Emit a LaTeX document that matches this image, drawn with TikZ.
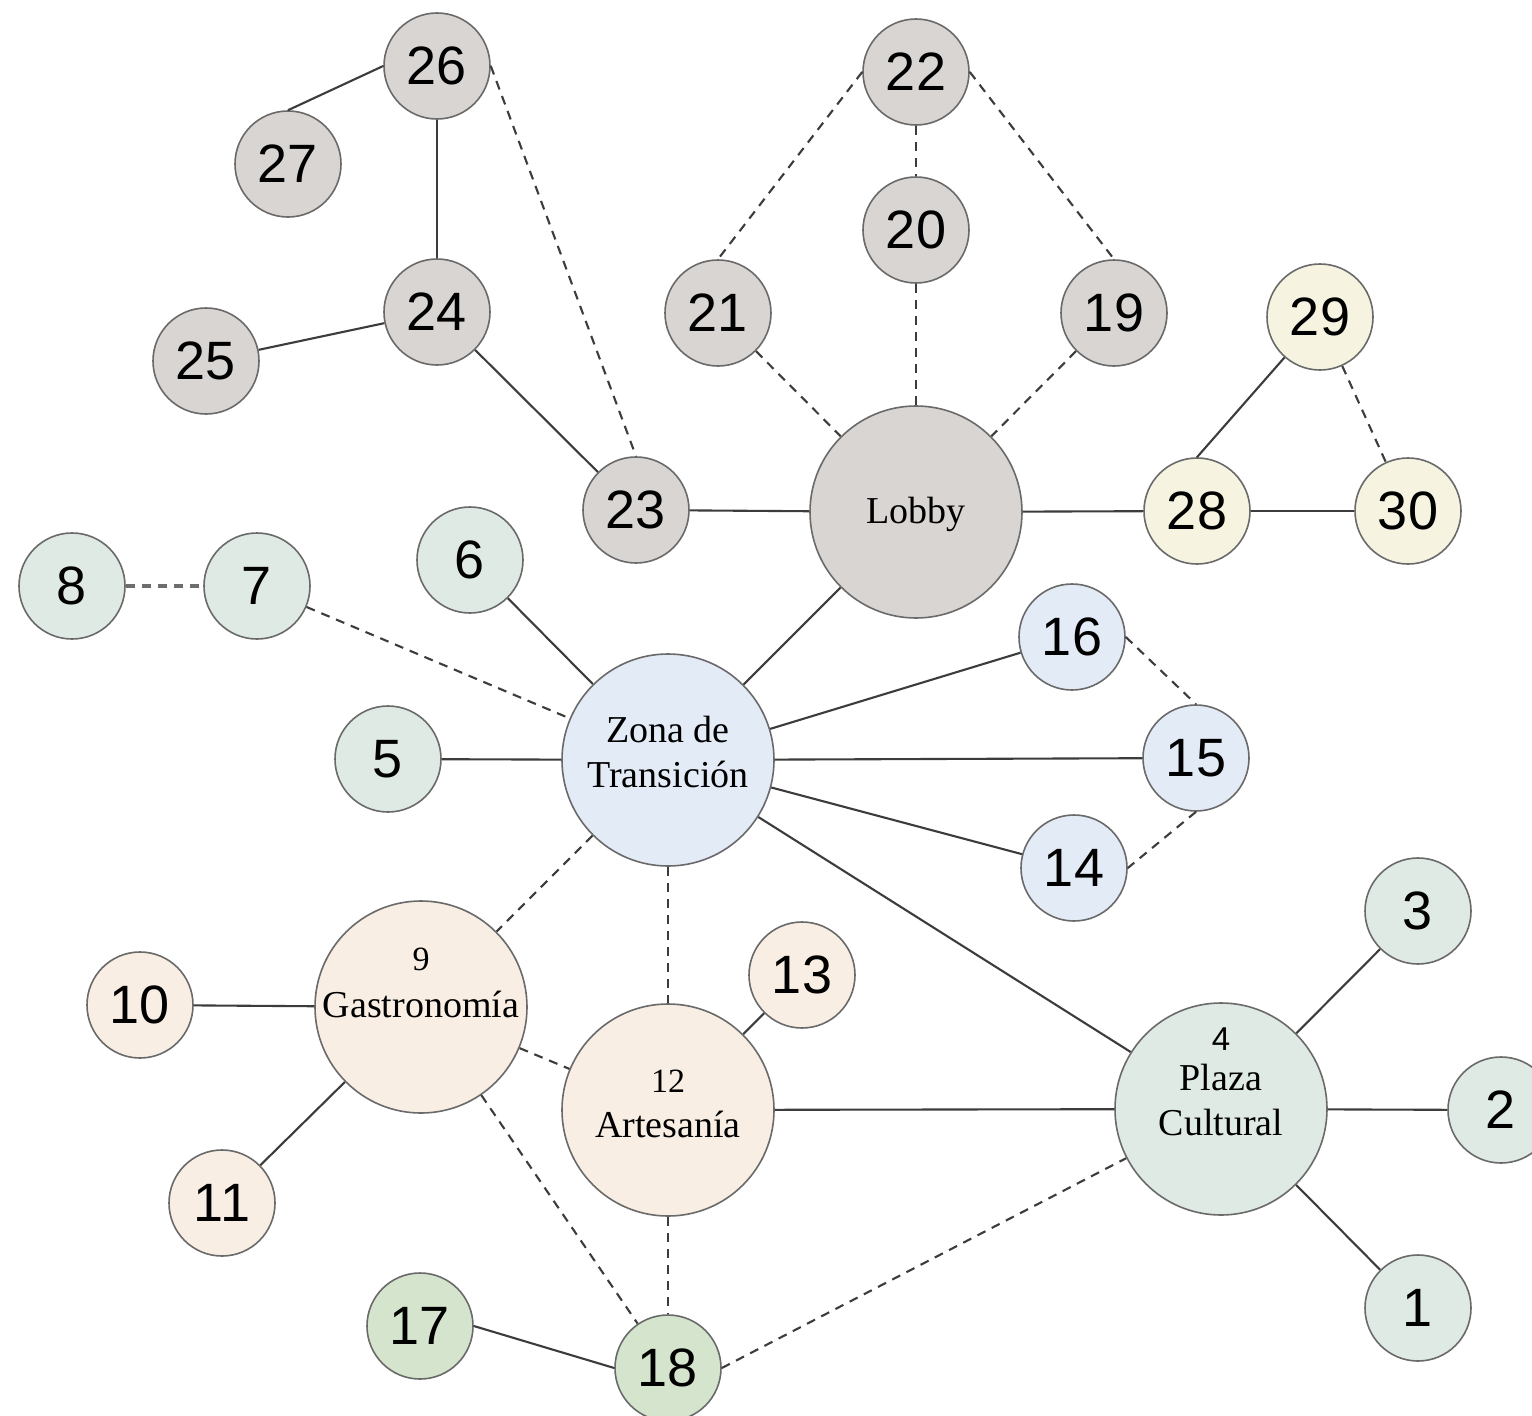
\documentclass[tikz,border=0pt]{standalone}
\usepackage{fontspec}
\setmainfont{Liberation Serif}
\newfontfamily\numfont{Liberation Sans}
\definecolor{cgray}{HTML}{D9D5D3}
\definecolor{ccream}{HTML}{F6F4E1}
\definecolor{csage}{HTML}{DFEAE4}
\definecolor{cblue}{HTML}{E3EBF6}
\definecolor{cpeach}{HTML}{F8EEE3}
\definecolor{cgreen}{HTML}{D5E5CD}
\definecolor{bordc}{HTML}{6A6A6A}
\definecolor{linec}{HTML}{3C3C3C}
\begin{document}
\begin{tikzpicture}[x=1pt,y=-1pt,
  sm/.style={circle, draw=bordc, line width=1.6pt, minimum size=106pt, inner sep=0pt,
             font=\numfont\fontsize{54}{58}\selectfont},
  big/.style={circle, draw=bordc, line width=1.6pt, minimum size=212pt, inner sep=0pt},
  ln/.style={draw=linec, line width=2.1pt},
  dl/.style={ln, dash pattern=on 9pt off 7pt},
  bl/.style={inner sep=0pt, text height=0pt, text depth=0pt},
  lbl/.style={bl, font=\fontsize{38}{45}\selectfont},
]
\useasboundingbox (0,0) rectangle (1532,1416);
\fill[white] (0,0) rectangle (1532,1416);

% gray group
\node[sm, fill=cgray] (n26) at (437,66) {26};
\node[sm, fill=cgray] (n27) at (288,164) {27};
\node[sm, fill=cgray] (n24) at (437,312) {24};
\node[sm, fill=cgray] (n25) at (206,361) {25};
\node[sm, fill=cgray] (n23) at (636,510) {23};
\node[sm, fill=cgray] (n22) at (916,72) {22};
\node[sm, fill=cgray] (n20) at (916,230) {20};
\node[sm, fill=cgray] (n21) at (718,313) {21};
\node[sm, fill=cgray] (n19) at (1114,313) {19};
\node[big, fill=cgray,
  label={[lbl, yshift=-11pt]center:Lobby}] (lobby) at (916,512) {};
% cream group
\node[sm, fill=ccream] (n29) at (1320,317) {29};
\node[sm, fill=ccream] (n28) at (1197,511) {28};
\node[sm, fill=ccream] (n30) at (1408,511) {30};
% sage group
\node[sm, fill=csage] (n8) at (72,586) {8};
\node[sm, fill=csage] (n7) at (257,586) {7};
\node[sm, fill=csage] (n6) at (470,560) {6};
\node[sm, fill=csage] (n5) at (388,759) {5};
\node[sm, fill=csage] (n3) at (1418,911) {3};
\node[sm, fill=csage] (n2) at (1501,1110) {2};
\node[sm, fill=csage] (n1) at (1418,1308) {1};
\node[big, fill=csage,
  label={[bl, font=\numfont\fontsize{33}{36}\selectfont, yshift=59pt]center:4},
  label={[lbl, yshift=19pt]center:Plaza},
  label={[lbl, yshift=-26pt]center:Cultural}] (n4) at (1221,1109) {};
% blue group
\node[big, fill=cblue,
  label={[lbl, yshift=18pt]center:Zona de},
  label={[lbl, yshift=-27pt]center:Transición}] (zona) at (668,760) {};
\node[sm, fill=cblue] (n16) at (1072,637) {16};
\node[sm, fill=cblue] (n15) at (1196,758) {15};
\node[sm, fill=cblue] (n14) at (1074,868) {14};
% peach group
\node[big, fill=cpeach,
  label={[bl, font=\fontsize{34}{38}\selectfont, yshift=37pt]center:9},
  label={[lbl, yshift=-10pt]center:Gastronomía}] (n9) at (421,1007) {};
\node[sm, fill=cpeach] (n10) at (140,1005) {10};
\node[sm, fill=cpeach] (n11) at (222,1203) {11};
\node[sm, fill=cpeach] (n13) at (802,975) {13};
\node[big, fill=cpeach,
  label={[bl, font=\fontsize{34}{38}\selectfont, yshift=18pt]center:12},
  label={[lbl, yshift=-27pt]center:Artesanía}] (n12) at (668,1110) {};
% green group
\node[sm, fill=cgreen] (n17) at (420,1326) {17};
\node[sm, fill=cgreen] (n18) at (668,1368) {18};

% solid connectors
\draw[ln] (n26.west) -- (n27.north);
\draw[ln] (n26) -- (n24);
\draw[ln] (n24) -- (n25);
\draw[ln] (n24) -- (n23);
\draw[ln] (n23) -- (lobby);
\draw[ln] (lobby) -- (n28);
\draw[ln] (n29) -- (n28.north);
\draw[ln] (n28) -- (n30);
\draw[ln] (lobby) -- (zona);
\draw[ln] (n6) -- (zona);
\draw[ln] (n5) -- (zona);
\draw[ln] (zona) -- (n16);
\draw[ln] (zona) -- (n15);
\draw[ln] (zona) -- (n14);
\draw[ln] (zona) -- (n4);
\draw[ln] (n4) -- (n3);
\draw[ln] (n4) -- (n2);
\draw[ln] (n4) -- (n1);
\draw[ln] (n10) -- (n9);
\draw[ln] (n9) -- (n11);
\draw[ln] (n12) -- (n13);
\draw[ln] (n12) -- (n4);
\draw[ln] (n17.east) -- (n18.west);

% dashed connectors
\draw[dl] (n26.east) -- (n23.north);
\draw[dl] (n22.west) -- (n21.north);
\draw[dl] (n22) -- (n20);
\draw[dl] (n22.east) -- (n19.north);
\draw[dl] (n21) -- (lobby);
\draw[dl] (n20) -- (lobby);
\draw[dl] (n19) -- (lobby);
\draw[dl] (n29) -- (n30);
\draw[dl, line width=3.5pt, draw=linec!75] (n8) -- (n7);
\draw[dl] (n7) -- (zona);
\draw[dl] (n16.east) -- (n15.north);
\draw[dl] (n15.south) -- (n14.east);
\draw[dl] (zona) -- (n9);
\draw[dl] (zona) -- (n12);
\draw[dl] (n9) -- (n12);
\draw[dl] (n9) -- (n18);
\draw[dl] (n12) -- (n18);
\draw[dl] (n18.east) -- (n4);
\end{tikzpicture}
\end{document}
